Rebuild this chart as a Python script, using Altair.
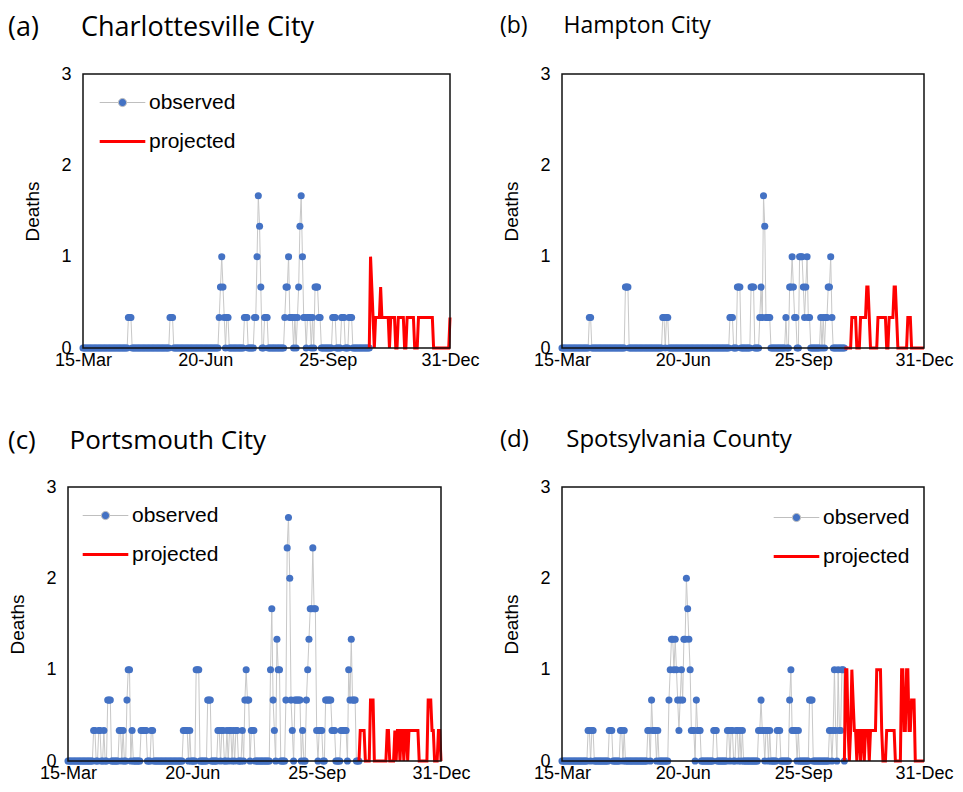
import altair as alt
import pandas as pd

# ---------------- data ----------------
# x axis: day offset from 15-Mar (2020); 291 = 31-Dec
tick_days = [0, 97, 194, 291]
tick_labels = ["15-Mar", "20-Jun", "25-Sep", "31-Dec"]
y_ticks = [0, 1, 2, 3]
x_max = 291
y_max = 3
obs_last_day = 227          # last observed day
proj_first_day = 227        # first projected day

panel_letters = ["(a)", "(b)", "(c)", "(d)"]
panel_names = ["Charlottesville City", "Hampton City", "Portsmouth City", "Spotsylvania County"]

# observed values, in thirds of a death (3-day average); days not listed are 0
a_obs = [(36, 1), (37, 1), (38, 1), (69, 1), (70, 1), (71, 1),
         (108, 1), (109, 2), (110, 3), (111, 2), (112, 1), (114, 1), (115, 1),
         (128, 1), (129, 1), (130, 1),
         (136, 1), (137, 1), (138, 3), (139, 5), (140, 4), (141, 2), (144, 1), (145, 1), (146, 1),
         (160, 1), (161, 2), (162, 2), (163, 3), (164, 1), (165, 1), (166, 1), (168, 1),
         (170, 1), (171, 2), (172, 4), (173, 5), (174, 3), (175, 1), (176, 1), (178, 1), (179, 1), (180, 1),
         (182, 1), (184, 2), (185, 2), (186, 2), (187, 1), (188, 1),
         (198, 1), (199, 1), (200, 1), (205, 1), (206, 1), (207, 1), (211, 1), (212, 1), (213, 1)]

b_obs = [(22, 1), (23, 1), (51, 2), (52, 2), (53, 2), (81, 1), (82, 1), (84, 1), (85, 1),
         (135, 1), (136, 1), (137, 1), (141, 2), (142, 2), (143, 2), (152, 2), (153, 2), (154, 2),
         (159, 1), (160, 2), (161, 1), (162, 5), (163, 4), (164, 1), (165, 1), (166, 1), (167, 1),
         (180, 1), (183, 2), (184, 2), (185, 3), (186, 2), (187, 1), (188, 1),
         (191, 3), (192, 3), (193, 3), (194, 2), (195, 1), (196, 2), (197, 3), (198, 1), (199, 1),
         (208, 1), (210, 1), (212, 1), (213, 1), (214, 2), (215, 2), (216, 3), (217, 1)]

c_obs = [(20, 1), (21, 1), (24, 1), (25, 1), (28, 1), (31, 2), (32, 2), (33, 2),
         (40, 1), (41, 1), (43, 1), (46, 2), (47, 3), (48, 3), (50, 1),
         (57, 1), (58, 1), (59, 1), (60, 1), (61, 1), (65, 1), (66, 1),
         (90, 1), (91, 1), (92, 1), (93, 1), (95, 1), (100, 3), (101, 3), (102, 3),
         (109, 2), (110, 2), (111, 2),
         (117, 1), (118, 1), (120, 1), (121, 1), (124, 1), (126, 1), (127, 1), (129, 1), (131, 1), (132, 1),
         (136, 1), (138, 2), (139, 3), (140, 2), (141, 2), (143, 1), (144, 1), (145, 1),
         (158, 3), (159, 5), (160, 2), (161, 1), (163, 4), (164, 3), (165, 3),
         (170, 2), (171, 7), (172, 8), (173, 6), (174, 2), (175, 1),
         (177, 2), (178, 2), (179, 2), (180, 2), (181, 2), (183, 1),
         (186, 2), (187, 3), (188, 4), (189, 5), (190, 5), (191, 7), (192, 5), (193, 5), (194, 1),
         (196, 1), (197, 1), (198, 1), (201, 2), (202, 2), (203, 2), (204, 2), (205, 2), (206, 1), (207, 1), (208, 1),
         (213, 1), (214, 1), (215, 1), (216, 1), (217, 1), (219, 3), (220, 2), (221, 4), (222, 2), (223, 2), (224, 2)]

d_obs = [(21, 1), (22, 1), (24, 1), (25, 1), (38, 1), (39, 1), (40, 1), (47, 1), (48, 1), (50, 1),
         (69, 1), (70, 1), (72, 2), (73, 1), (74, 1), (75, 1), (77, 1),
         (86, 2), (87, 3), (88, 4), (89, 4), (90, 3), (91, 4), (92, 3), (93, 2), (94, 1), (95, 2), (96, 3),
         (97, 2), (98, 4), (99, 4), (100, 6), (101, 5), (102, 4), (103, 3), (104, 1), (105, 1), (106, 1),
         (108, 2), (109, 1), (110, 1), (111, 1),
         (122, 1), (123, 1), (124, 1),
         (133, 1), (134, 1), (136, 1), (137, 1), (140, 1), (141, 1), (143, 1), (145, 1),
         (158, 1), (159, 1), (160, 2), (161, 1), (162, 1), (164, 1), (165, 1), (167, 1),
         (173, 1), (174, 1), (175, 1),
         (183, 2), (184, 3), (185, 1), (186, 1), (187, 1), (188, 1), (190, 1),
         (199, 2), (200, 2), (201, 2),
         (215, 1), (216, 1), (218, 1), (219, 3), (220, 1), (222, 3), (223, 1), (224, 1), (225, 3), (226, 3)]

# projected values, in thirds of a death, one per day from proj_first_day to 31-Dec
a_proj = [0, 3, 2, 1, 0, 1, 1, 1, 1, 2, 1, 1, 1, 1, 1, 1, 0, 1, 1, 1, 1, 0, 0, 1, 1, 1, 1, 1, 0, 0,
          1, 1, 1, 1, 1, 1, 0, 0, 0, 1, 1, 1, 1, 1, 1, 1, 1, 1, 1, 1, 1,
          0, 0, 0, 0, 0, 0, 0, 0, 0, 0, 0, 0, 0, 1]
b_proj = [0, 0, 0, 0, 0, 0, 1, 1, 1, 1, 0, 0, 0, 1, 1, 1, 1, 1, 2, 2, 1, 0, 0, 0, 0, 0, 0,
          1, 1, 1, 1, 1, 1, 1, 0, 0, 1, 1, 1, 1, 2, 2, 1, 0, 0, 0, 0, 0, 0, 0, 0, 1, 1, 1,
          0, 0, 0, 0, 0, 0, 0, 0, 0, 0, 0]
c_proj = [0, 1, 1, 1, 1, 0, 0, 0, 0, 2, 2, 2, 0, 0, 0, 0, 0, 0, 0, 0, 0, 0, 1, 1, 0, 0, 0, 0,
          1, 0, 1, 1, 0, 1, 1, 0, 1, 1, 0, 1, 1, 1, 1, 1, 1, 1, 1, 0, 0, 0, 0, 0, 0, 0,
          2, 2, 2, 1, 1, 0, 0, 0, 1, 1, 0]
d_proj = [0, 3, 3, 1, 0, 1, 3, 2, 1, 1, 0, 1, 1, 0, 1, 1, 0, 1, 1, 1, 0, 1, 1, 1, 1, 1,
          3, 3, 3, 3, 1, 0, 0, 0, 1, 1, 1, 1, 1, 1, 1, 0, 0, 0, 0, 0, 3, 3, 1, 1, 3, 3,
          1, 1, 2, 2, 2, 0, 0, 0, 0, 0, 0, 0, 0]

observed_sets = [a_obs, b_obs, c_obs, d_obs]
projected_sets = [a_proj, b_proj, c_proj, d_proj]

# ---------------- layout / styling ----------------
FONT = "Liberation Sans"
TITLE_FONT = "Open Sans"
BLUE = "#4472C4"
GREY = "#C8C8C8"
RED = "#FF0000"

# each panel: view width, and pixel range of the plotting frame inside the view
view_width = [412, 362, 412, 362]
frame_range = [(15, 382), (0, 362), (0, 373), (0, 362)]
panel_height = 274
title_dx = [-60, -62, -60, -62]
title_size = [27, 23, 26, 24]
title_offset = [23, 27, 24, 26]
title_gap = [6, 6, 5, 6]          # non-breaking spaces between letter and name
# legend placement inside the view (None = no legend)
legend_pos = [(41, 16), None, (24, 16), (221, 18)]

PATH_OBS = ("M-1.9,0H-0.3M0.3,0H1.9"
            "M-0.34,0A0.34,0.34,0,1,1,0.34,0A0.34,0.34,0,1,1,-0.34,0Z")
PATH_PROJ = "M-1.9,0H1.9"

label_expr = " : ".join(
    f"datum.value == {d} ? '{t}'" for d, t in zip(tick_days, tick_labels)
) + " : ''"


def make_panel(i):
    obs_map = dict(observed_sets[i])
    obs_df = pd.DataFrame({
        "day": list(range(0, obs_last_day + 1)),
        "value": [obs_map.get(d, 0) / 3 for d in range(0, obs_last_day + 1)],
    })
    proj_vals = projected_sets[i]
    assert len(proj_vals) == x_max - proj_first_day + 1
    proj_df = pd.DataFrame({
        "day": list(range(proj_first_day, x_max + 1)),
        "value": [v / 3 for v in proj_vals],
    })
    frame_df = pd.DataFrame({"x0": [0], "x1": [x_max], "y0": [0], "y1": [y_max]})

    r0, r1 = frame_range[i]
    xscale = alt.Scale(domain=[0, x_max], range=[r0, r1], nice=False, zero=False)
    yscale = alt.Scale(domain=[0, y_max], nice=False)
    xaxis = alt.Axis(values=tick_days, labelExpr=label_expr, title=None,
                     ticks=False, domain=False, grid=False,
                     labelFlush=False, labelOverlap=False, labelBound=False,
                     labelFont=FONT, labelFontSize=18, labelColor="#000",
                     labelPadding=3)
    yaxis = alt.Axis(values=y_ticks, format="d", title="Deaths", offset=-r0,
                     ticks=False, domain=False, grid=False,
                     labelFont=FONT, labelFontSize=18, labelColor="#000",
                     labelPadding=12,
                     titleFont=FONT, titleFontSize=19, titleFontWeight="normal",
                     titleColor="#000", titlePadding=18)
    x = alt.X("day:Q", scale=xscale, axis=xaxis)
    y = alt.Y("value:Q", scale=yscale, axis=yaxis)

    frame = alt.Chart(frame_df).mark_rect(
        fill="transparent", stroke="#111", strokeWidth=1.5
    ).encode(
        x=alt.X("x0:Q", scale=xscale, axis=xaxis),
        x2="x1:Q",
        y=alt.Y("y0:Q", scale=yscale, axis=yaxis),
        y2="y1:Q",
    )
    line = alt.Chart(obs_df).mark_line(color=GREY, strokeWidth=1).encode(x=x, y=y)
    pts = alt.Chart(obs_df).mark_circle(color=BLUE, size=50, opacity=1).encode(x=x, y=y)
    proj = alt.Chart(proj_df).mark_line(color=RED, strokeWidth=3).encode(x=x, y=y)

    layers = [line, pts, proj, frame]
    if legend_pos[i] is not None:
        lx, ly = legend_pos[i]
        leg = alt.Legend(orient="none", legendX=lx, legendY=ly, title=None,
                         labelFont=FONT, labelFontSize=21, labelColor="#000",
                         symbolSize=576, rowPadding=15, labelOffset=13,
                         padding=0, symbolOpacity=1)
        dom = ["observed", "projected"]
        key_df = pd.DataFrame({"series": dom})
        key = alt.Chart(key_df).mark_point(filled=True).encode(
            shape=alt.Shape("series:N", title=None, legend=leg,
                            scale=alt.Scale(domain=dom, range=[PATH_OBS, PATH_PROJ])),
            fill=alt.Fill("series:N", title=None, legend=leg,
                          scale=alt.Scale(domain=dom, range=[BLUE, "transparent"])),
            stroke=alt.Stroke("series:N", title=None, legend=leg,
                              scale=alt.Scale(domain=dom, range=["#BFBFBF", RED])),
            strokeWidth=alt.StrokeWidth("series:N", title=None, legend=leg,
                                        scale=alt.Scale(domain=dom, range=[1, 3])),
        ).transform_filter("false")
        layers.append(key)

    return alt.layer(*layers).properties(
        width=view_width[i], height=panel_height,
        title=alt.TitleParams(
            text=panel_letters[i] + "\u00a0" * title_gap[i] + panel_names[i],
            anchor="start", frame="group", dx=title_dx[i], offset=title_offset[i],
            font=TITLE_FONT, fontSize=title_size[i], fontWeight="normal", color="#000"),
    )


chart = alt.concat(
    make_panel(0), make_panel(1), make_panel(2), make_panel(3),
    columns=2, align="none", spacing={"row": 59, "column": 20},
).resolve_scale(
    shape="independent", fill="independent", stroke="independent",
    strokeWidth="independent"
).resolve_legend(
    shape="independent", fill="independent", stroke="independent",
    strokeWidth="independent"
).properties(
    padding={"left": 0, "top": 6, "right": 0, "bottom": 0}
).configure_view(stroke="transparent", strokeWidth=0)

chart.save("out.html", embed_options={"renderer": "svg", "actions": False})
